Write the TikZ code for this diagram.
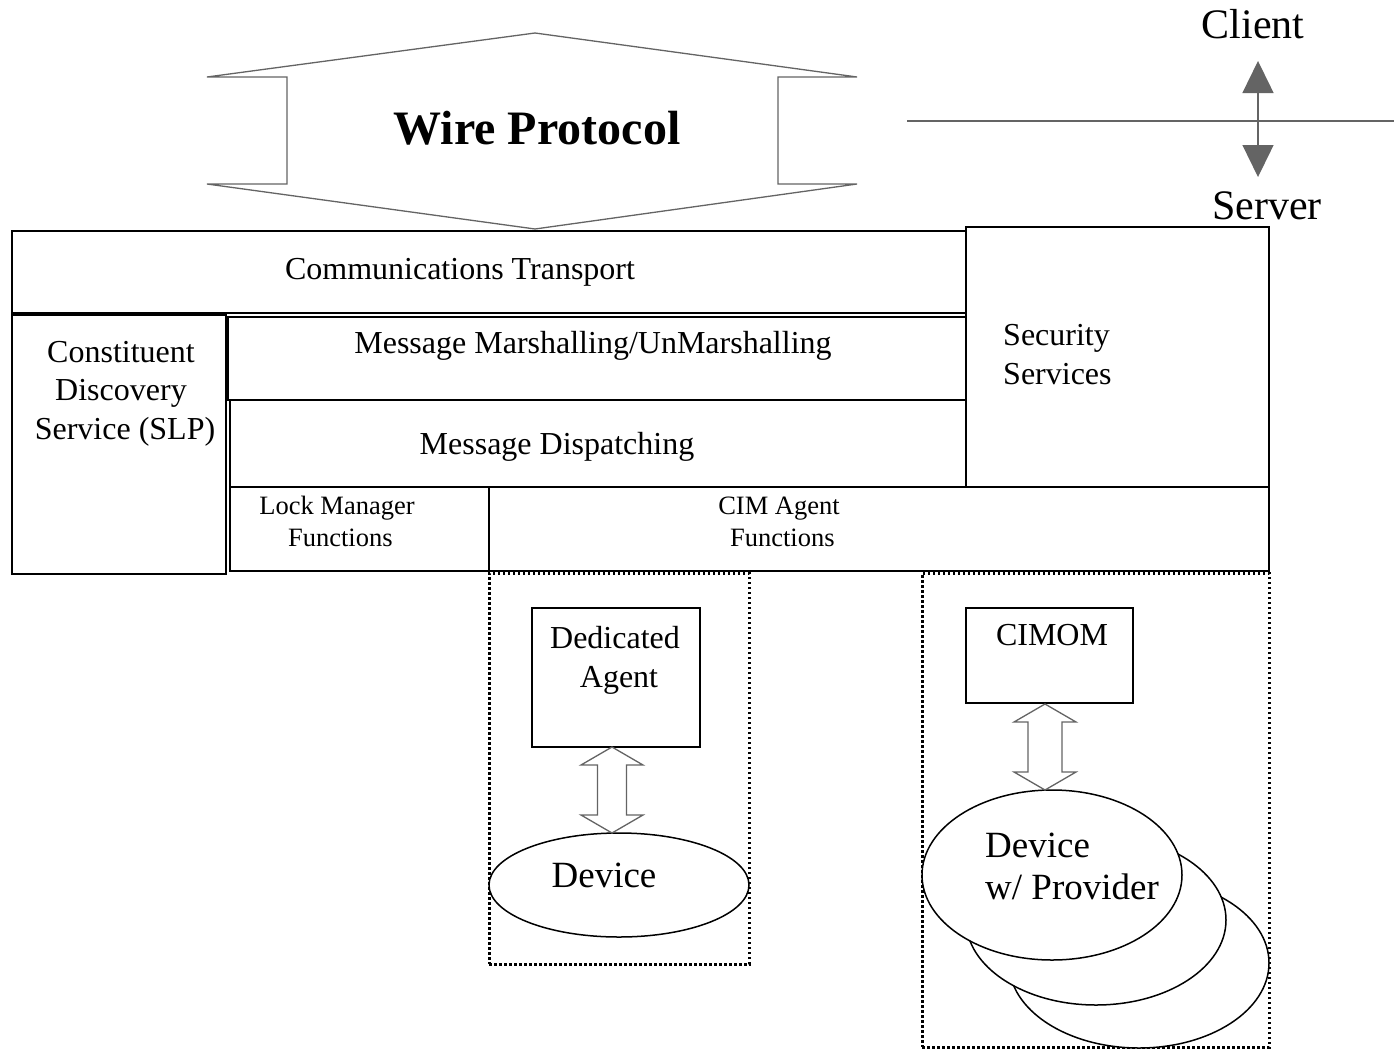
\documentclass[tikz,border=0pt]{standalone}
\usepackage{fontspec}
\setmainfont{Liberation Serif}
\usetikzlibrary{arrows.meta,calc,shapes.geometric}
\definecolor{wiregray}{RGB}{100,100,100}
\newcommand{\fsmain}{\fontsize{32}{38.4}\selectfont}
\newcommand{\fssmall}{\fontsize{26.5}{32}\selectfont}
\newcommand{\fsdev}{\fontsize{37}{42}\selectfont}
\newcommand{\fsbig}{\fontsize{42}{50}\selectfont}
% hollow double block arrow between two named points
\newcommand{\hollowarrow}[3]{%
  \draw[hollow] (#1) -- ++(31,18) -- ++(-31+#3,0) -- ($(#2)+(#3,-18)$)
    -- ++(31-#3,0) -- (#2) -- ++(-31,-18) -- ++(31-#3,0)
    -- ($(#1)+(-#3,18)$) -- ++(-31+#3,0) -- cycle;}
\tikzset{
  layer/.style={draw, line width=2pt, inner sep=0pt},
  thinbox/.style={draw, line width=1.3pt, inner sep=0pt},
  dotbox/.style={draw, line width=3pt, dash pattern=on 2.5pt off 2.5pt, inner sep=0pt},
  blob/.style={ellipse, draw, fill=white, line width=1.5pt, inner sep=0pt},
  gline/.style={draw=wiregray, line width=1.4pt},
  hollow/.style={draw=wiregray, line width=1.3pt, fill=white},
  lbl/.style={font=\fsmain, inner sep=0pt, anchor=base, align=center},
}
\begin{document}
\begin{tikzpicture}[x=1pt, y=-1pt]
  \useasboundingbox[fill=white] (0,0) rectangle (1394,1049);

  % wire protocol
  \draw[gline, line width=1.3pt] (535,33) -- (857,77) -- (778,77) -- (778,184) -- (857,184)
    -- (535,229) -- (207,184) -- (287,184) -- (287,77) -- (207,77) -- cycle;
  \node[lbl, font=\fontsize{48}{56}\selectfont\bfseries] (wire) at (537,144) {Wire Protocol};

  % client / server
  \coordinate (divL) at (907,121);
  \coordinate (divR) at (1394,121);
  \draw[gline] (divL) -- (divR);
  \coordinate (cli) at (1258,61);
  \coordinate (srv) at (1258,177);
  \draw[gline, fill=wiregray, {Triangle[width=31pt,length=32pt]}-{Triangle[width=31pt,length=32pt]}] (cli) -- (srv);
  \node[lbl, font=\fsbig] (client) at (1253,39) {Client};
  \node[lbl, font=\fsbig] (server) at (1267,219) {Server};

  % layers
  \node[layer, minimum width=954pt, minimum height=82pt] (comm) at (489,272) {};
  \node[layer, minimum width=303pt, minimum height=260pt] (sec) at (1117.5,357) {};
  \node[layer, minimum width=214pt, minimum height=259pt] (disc) at (119,444.5) {};
  \node[layer, minimum width=738pt, minimum height=83pt] (marsh) at (597,358.5) {};
  \node[layer, minimum width=736pt, minimum height=87pt] (disp) at (598,443.5) {};
  \node[layer, minimum width=259pt, minimum height=84pt] (lock) at (359.5,529) {};
  \node[layer, minimum width=780pt, minimum height=84pt] (cim) at (879,529) {};

  \node[lbl] (commtxt) at (460,279) {Communications Transport};
  \node[lbl, anchor=base west, align=left] (sectxt) at (1003,384) {Security\\Services};
  \node[lbl] (disctxt) at (121,439) {Constituent\\Discovery\\\ Service (SLP)};
  \node[lbl] (marshtxt) at (593,353) {Message Marshalling/UnMarshalling};
  \node[lbl] (disptxt) at (557,454) {Message Dispatching};
  \node[lbl, font=\fssmall] (locktxt) at (337,546) {Lock Manager\\\ Functions};
  \node[lbl, font=\fssmall] (cimtxt) at (779,546) {CIM Agent\\\ Functions};

  % dedicated agent
  \node[dotbox, minimum width=260pt, minimum height=391pt] (dedarea) at (619,768.5) {};
  \node[thinbox, minimum width=168pt, minimum height=139pt] (agent) at (616,677.5) {};
  \node[lbl] (agenttxt) at (615,687) {Dedicated\\\ Agent};
  \node[blob, minimum width=260pt, minimum height=104pt] (dev) at (619,885) {};
  \node[lbl, font=\fsdev] (devtxt) at (604,887) {Device};
  \coordinate (dtop) at (612,747);
  \coordinate (dbot) at (612,833);
  \hollowarrow{dtop}{dbot}{14.5}

  % cimom with providers
  \node[dotbox, minimum width=347pt, minimum height=474pt] (provarea) at (1095.5,810) {};
  \node[thinbox, minimum width=167pt, minimum height=95pt] (cimom) at (1049.5,655.5) {};
  \node[lbl] (cimomtxt) at (1052,645) {CIMOM};
  \node[blob, minimum width=260pt, minimum height=170pt] (prov3) at (1139,963) {};
  \node[blob, minimum width=260pt, minimum height=170pt] (prov2) at (1096,920) {};
  \node[blob, minimum width=260pt, minimum height=170pt] (prov1) at (1052,875) {};
  \node[lbl, font=\fsdev, anchor=base west, align=left] (provtxt) at (985,899) {Device\\w/ Provider};
  \coordinate (ctop) at (1045,704);
  \coordinate (cbot) at (1045,790);
  \hollowarrow{ctop}{cbot}{17}
\end{tikzpicture}
\end{document}
